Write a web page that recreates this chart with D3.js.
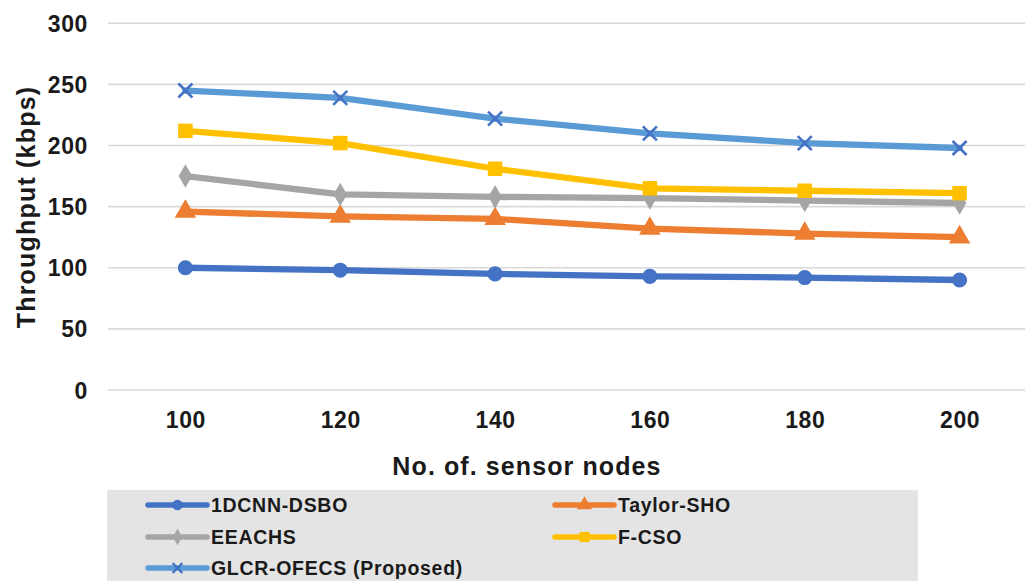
<!DOCTYPE html>
<html>
<head>
<meta charset="utf-8">
<script src="https://cdn.jsdelivr.net/npm/d3@7"></script>
<style>
  html, body { margin: 0; padding: 0; background: #ffffff; }
  svg { display: block; }
  text { font-family: "Liberation Sans", Arial, sans-serif; font-weight: bold; fill: #1a1a1a; }
</style>
</head>
<body>
<svg id="chart" width="1025" height="581"></svg>
<script>
// Sensor node counts on the x axis
const nodeCounts = ["100", "120", "140", "160", "180", "200"];

// Throughput (kbps) per method
const dcnnDsbo   = [100, 98, 95, 93, 92, 90];
const taylorSho  = [146, 142, 140, 132, 128, 125];
const eeachs     = [175, 160, 158, 157, 155, 153];
const fCso       = [212, 202, 181, 165, 163, 161];
const glcrOfecs  = [245, 239, 222, 210, 202, 198];

const yTicks = [0, 50, 100, 150, 200, 250, 300];

const seriesNames = ["1DCNN-DSBO", "Taylor-SHO", "EEACHS", "F-CSO", "GLCR-OFECS (Proposed)"];

const series = [
  { name: seriesNames[0], values: dcnnDsbo,  line: "#4472C4", mark: "#4472C4", shape: "circle" },
  { name: seriesNames[1], values: taylorSho, line: "#ED7D31", mark: "#ED7D31", shape: "triangle" },
  { name: seriesNames[2], values: eeachs,    line: "#A5A5A5", mark: "#A5A5A5", shape: "diamond" },
  { name: seriesNames[3], values: fCso,      line: "#FFC000", mark: "#FFC000", shape: "square" },
  { name: seriesNames[4], values: glcrOfecs, line: "#5B9BD5", mark: "#4472C4", shape: "x" }
];

const svg = d3.select("#chart");

const plot = { left: 108, right: 1037, top: 23.3, bottom: 390 };

const x = d3.scalePoint().domain(nodeCounts).range([plot.left, plot.right]).padding(0.5);
const y = d3.scaleLinear().domain([0, 300]).range([plot.bottom, plot.top]);

// Horizontal gridlines
svg.append("g")
  .selectAll("line")
  .data(yTicks)
  .join("line")
  .attr("x1", plot.left)
  .attr("x2", 1025)
  .attr("y1", d => y(d))
  .attr("y2", d => y(d))
  .attr("stroke", "#d9d9d9")
  .attr("stroke-width", 1.6);

// Y axis labels
const yAxis = d3.axisLeft(y).tickValues(yTicks).tickSize(0).tickPadding(0);
svg.append("g")
  .attr("transform", "translate(88,0)")
  .call(yAxis)
  .call(g => g.select(".domain").remove())
  .selectAll("text")
  .attr("font-size", 23)
  .attr("letter-spacing", "0.6px")
  .attr("fill", "#1a1a1a")
  .attr("dy", "0.35em");

// X axis labels
const xAxis = d3.axisBottom(x).tickSize(0).tickPadding(0);
svg.append("g")
  .attr("transform", "translate(0,412)")
  .call(xAxis)
  .call(g => g.select(".domain").remove())
  .selectAll("text")
  .attr("font-size", 23)
  .attr("letter-spacing", "0.6px")
  .attr("fill", "#1a1a1a")
  .attr("dy", "0.71em");

// Axis titles
svg.append("text")
  .attr("x", 527)
  .attr("y", 475)
  .attr("text-anchor", "middle")
  .attr("font-size", 25)
  .attr("letter-spacing", "1.1px")
  .text("No. of. sensor nodes");

svg.append("text")
  .attr("transform", "translate(35,207) rotate(-90)")
  .attr("text-anchor", "middle")
  .attr("font-size", 25)
  .attr("letter-spacing", "1.2px")
  .text("Throughput (kbps)");

// Marker symbols
function symbolFor(shape, scale) {
  const s = scale || 1;
  switch (shape) {
    case "circle":   return d3.symbol(d3.symbolCircle, 180 * s * s)();
    case "triangle": return d3.symbol(d3.symbolTriangle, 200 * s * s)();
    case "diamond":  return d3.symbol(d3.symbolDiamond, 160 * s * s)();
    case "square":   return d3.symbol(d3.symbolSquare, 210 * s * s)();
    case "x":        return d3.symbol(d3.symbolX, 130 * s * s)();
  }
}

const line = d3.line()
  .x((d, i) => x(nodeCounts[i]))
  .y(d => y(d));

const seriesG = svg.append("g")
  .selectAll("g")
  .data(series)
  .join("g");

seriesG.append("path")
  .attr("d", d => line(d.values))
  .attr("fill", "none")
  .attr("stroke", d => d.line)
  .attr("stroke-width", 6.3)
  .attr("stroke-linejoin", "round")
  .attr("stroke-linecap", "round");

seriesG.each(function(s) {
  d3.select(this).selectAll("path.mark")
    .data(s.values)
    .join("path")
    .attr("class", "mark")
    .attr("transform", (v, i) => `translate(${x(nodeCounts[i])},${y(v)})`)
    .attr("d", symbolFor(s.shape))
    .attr("fill", s.shape === "x" ? "none" : s.mark)
    .attr("stroke", s.shape === "x" ? s.mark : "none")
    .attr("stroke-width", s.shape === "x" ? 2.6 : 0);
});

// Legend
svg.append("rect")
  .attr("x", 107)
  .attr("y", 490)
  .attr("width", 811)
  .attr("height", 100)
  .attr("fill", "#e4e4e4");

const legendPos = [
  { x: 148, y: 505 }, { x: 555, y: 505 },
  { x: 148, y: 537 }, { x: 555, y: 537 },
  { x: 148, y: 568 }
];

const legend = svg.append("g")
  .selectAll("g")
  .data(series)
  .join("g")
  .attr("transform", (d, i) => `translate(${legendPos[i].x},${legendPos[i].y})`);

legend.append("line")
  .attr("x1", 0).attr("x2", 59)
  .attr("y1", 0).attr("y2", 0)
  .attr("stroke", d => d.line)
  .attr("stroke-width", 5.5)
  .attr("stroke-linecap", "round");

legend.append("path")
  .attr("transform", "translate(29.5,0)")
  .attr("d", d => symbolFor(d.shape, 0.7))
  .attr("fill", d => d.shape === "x" ? "none" : d.mark)
  .attr("stroke", d => d.shape === "x" ? d.mark : "none")
  .attr("stroke-width", d => d.shape === "x" ? 2.2 : 0);

legend.append("text")
  .attr("x", 63)
  .attr("y", 0)
  .attr("dy", "0.36em")
  .attr("font-size", 19.5)
  .attr("letter-spacing", "0.7px")
  .text(d => d.name);
</script>
</body>
</html>
